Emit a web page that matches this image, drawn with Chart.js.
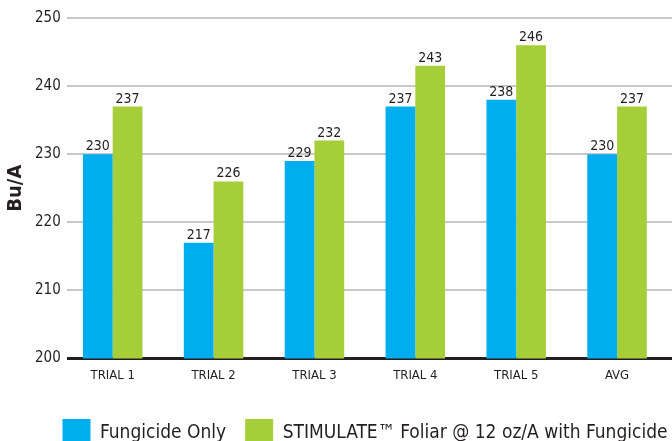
<!DOCTYPE html>
<html>
<head>
<meta charset="utf-8">
<script src="https://cdn.jsdelivr.net/npm/chart.js@4"></script>
<style>
  html, body { margin: 0; padding: 0; background: #fff; }
  #wrap { width: 672px; height: 441px; }
</style>
</head>
<body>
<div id="wrap"><canvas id="chart" width="672" height="441"></canvas></div>
<script>
// data
const trials = ["TRIAL 1", "TRIAL 2", "TRIAL 3", "TRIAL 4", "TRIAL 5", "AVG"];
const fungicideOnly = [230, 217, 229, 237, 238, 230];
const stimulate = [237, 226, 232, 243, 246, 237];
const seriesNames = ["Fungicide Only", "STIMULATE\u2122 Foliar @ 12 oz/A with Fungicide"];

const FONT = "'DejaVu Sans Condensed', 'DejaVu Sans', sans-serif";
Chart.defaults.font.family = FONT;
Chart.defaults.color = "#231f20";

// value labels on top of each bar
const barLabels = {
  id: "barLabels",
  afterDatasetsDraw(chart) {
    const ctx = chart.ctx;
    ctx.save();
    ctx.font = "14px " + FONT;
    ctx.fillStyle = "#231f20";
    ctx.textAlign = "center";
    ctx.textBaseline = "alphabetic";
    chart.data.datasets.forEach((ds, i) => {
      chart.getDatasetMeta(i).data.forEach((bar, j) => {
        ctx.fillText(ds.data[j], bar.x, bar.y - 4);
      });
    });
    ctx.restore();
  }
};

// nudge things the way the original layout has them
const nudge = {
  id: "nudge",
  afterLayout(chart) {
    const x = chart.scales.x;
    x.left -= 4.5;
    x.right -= 4.5;
    x.configure();
    const lg = chart.legend;
    lg.left += 29;
    lg.right += 29;
    lg.top += 8;
    lg.bottom += 8;
  }
};

new Chart(document.getElementById("chart"), {
  type: "bar",
  data: {
    labels: trials,
    datasets: [
      {
        label: seriesNames[0],
        data: fungicideOnly,
        backgroundColor: "#00aeef",
        barPercentage: 1,
        categoryPercentage: 0.59
      },
      {
        label: seriesNames[1],
        data: stimulate,
        backgroundColor: "#a6ce39",
        barPercentage: 1,
        categoryPercentage: 0.59
      }
    ]
  },
  options: {
    responsive: false,
    animation: false,
    layout: { padding: { top: 18, right: 0, left: 0, bottom: -8 } },
    plugins: {
      legend: {
        position: "bottom",
        labels: {
          boxWidth: 28,
          boxHeight: 28,
          padding: 19,
          font: { size: 19 },
          color: "#231f20"
        }
      },
      tooltip: { enabled: false }
    },
    scales: {
      x: {
        grid: { display: false, drawTicks: false },
        border: { display: false },
        ticks: { font: { size: 13 }, padding: 9, color: "#231f20" }
      },
      y: {
        min: 200,
        max: 250,
        ticks: { stepSize: 10, font: { size: 15 }, padding: 6, color: "#231f20" },
        grid: {
          drawTicks: false,
          color: (c) => (c.tick && c.tick.value === 200 ? "#231f20" : "#c8c8c8"),
          lineWidth: (c) => (c.tick && c.tick.value === 200 ? 3 : 2)
        },
        border: { display: false },
        title: {
          display: true,
          text: "Bu/A",
          font: { size: 20, weight: "bold" },
          color: "#231f20",
          padding: { top: 4, bottom: 1 }
        }
      }
    }
  },
  plugins: [barLabels, nudge]
});
</script>
</body>
</html>
